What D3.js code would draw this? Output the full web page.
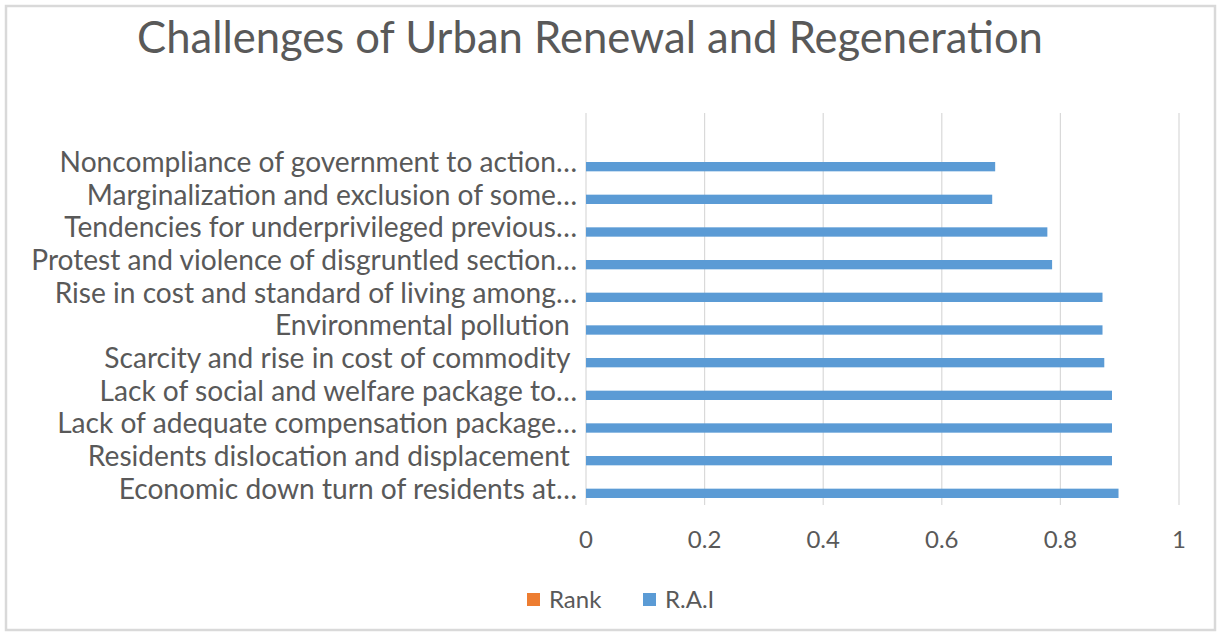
<!DOCTYPE html>
<html>
<head>
<meta charset="utf-8">
<script src="https://cdn.jsdelivr.net/npm/d3@7"></script>
<style>
  body { margin: 0; background: #fff; }
  text { font-family: Lato, "Open Sans", sans-serif; fill: #595959; }
</style>
</head>
<body>
<svg id="chart" width="1223" height="636"></svg>
<script>
// categories, top to bottom (first one is the blank row Excel kept)
let categories = [
  "",
  "Noncompliance of government to action…",
  "Marginalization and exclusion of some…",
  "Tendencies for underprivileged previous…",
  "Protest and violence of disgruntled section…",
  "Rise in cost and standard of living among…",
  "Environmental pollution ",
  "Scarcity and rise in cost of commodity ",
  "Lack of social and welfare package to…",
  "Lack of adequate compensation package…",
  "Residents dislocation and displacement ",
  "Economic down turn of residents at…"
]
let raiValues = [null, 0.69, 0.685, 0.778, 0.786, 0.871, 0.871, 0.874, 0.887, 0.887, 0.887, 0.898]
let rankValues = [null, null, null, null, null, null, null, null, null, null, null, null]
let xTicks = [0, 0.2, 0.4, 0.6, 0.8, 1]
let seriesNames = ["Rank", "R.A.I"]
let seriesColors = ["#ED7D31", "#5B9BD5"]

let svg = d3.select("#chart")

// chart frame
svg.append("rect")
  .attr("x", 6).attr("y", 6)
  .attr("width", 1209).attr("height", 624)
  .attr("fill", "#fff")
  .attr("stroke", "#d9d9d9")
  .attr("stroke-width", 2.5)

let plotLeft = 586, plotRight = 1179, plotTop = 113, plotBottom = 505

let x = d3.scaleLinear().domain([0, 1]).range([plotLeft, plotRight])
let y = d3.scaleBand().domain(categories).range([plotTop, plotBottom])
// gap width 150% -> two bars of band/3.5
let inner = d3.scaleBand().domain(seriesNames).range([0, y.bandwidth()]).paddingInner(0).paddingOuter(0.75)

// gridlines
svg.append("g")
  .selectAll("line")
  .data(xTicks)
  .enter()
  .append("line")
  .attr("x1", d => x(d)).attr("x2", d => x(d))
  .attr("y1", plotTop).attr("y2", plotBottom)
  .attr("stroke", "#d9d9d9")
  .attr("stroke-width", 1.2)

// x tick labels
svg.append("g")
  .selectAll("text")
  .data(xTicks)
  .enter()
  .append("text")
  .attr("x", d => x(d))
  .attr("y", 548)
  .attr("text-anchor", "middle")
  .style("font-size", "24px")
  .text(d => d)

// bars: Rank on top of each pair, R.A.I below
let rows = categories.map((c, i) => ({ cat: c, Rank: rankValues[i], "R.A.I": raiValues[i] }))
seriesNames.forEach((s, si) => {
  svg.append("g")
    .selectAll("rect")
    .data(rows.filter(r => r[s] != null))
    .enter()
    .append("rect")
    .attr("x", x(0))
    .attr("y", r => y(r.cat) + inner(s))
    .attr("width", r => x(r[s]) - x(0))
    .attr("height", inner.bandwidth())
    .attr("fill", seriesColors[si])
})

// category labels
let labels = svg.append("g")
  .selectAll("text")
  .data(categories)
  .enter()
  .append("text")
  .attr("x", 577)
  .attr("y", d => y(d) + y.bandwidth() / 2)
  .attr("dy", "0.35em")
  .attr("text-anchor", "end")
  .attr("xml:space", "preserve")
  .style("white-space", "pre")
  .style("font-size", "20px")
  .text(d => d)

// fit the label font to the width of the longest label in the picture
let longest = labels.filter((d, i) => i === 4).node().getComputedTextLength()
labels.style("font-size", 20 * 546 / longest + "px")

// title
let title = svg.append("text")
  .attr("x", 590)
  .attr("y", 53)
  .attr("text-anchor", "middle")
  .style("font-size", "36px")
  .text("Challenges of Urban Renewal and Regeneration")
let tw = title.node().getComputedTextLength()
title.style("font-size", 36 * 906 / tw + "px")

// legend
let legendX = [527, 643]
let legend = svg.append("g")
  .selectAll("g")
  .data(seriesNames)
  .enter()
  .append("g")
  .attr("transform", (d, i) => "translate(" + legendX[i] + ",593)")
legend.append("rect")
  .attr("width", 13).attr("height", 13)
  .attr("fill", (d, i) => seriesColors[i])
legend.append("text")
  .attr("x", 22).attr("y", 7)
  .attr("dy", "0.35em")
  .style("font-size", "24px")
  .text(d => d)
</script>
</body>
</html>
